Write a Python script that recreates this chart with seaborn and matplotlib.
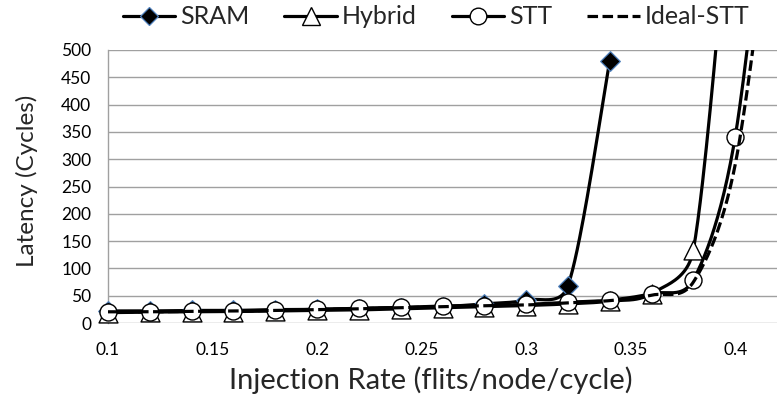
import numpy as np
import pandas as pd
import matplotlib
matplotlib.use("Agg")
import matplotlib.pyplot as plt
import seaborn as sns
from matplotlib.lines import Line2D

# ---------------- data ----------------
rate = [0.10, 0.12, 0.14, 0.16, 0.18, 0.20, 0.22, 0.24, 0.26, 0.28,
        0.30, 0.32, 0.34, 0.36, 0.38, 0.40, 0.42]
sram = [22, 22, 23, 23, 24.5, 25, 26.5, 28, 30, 35, 42, 68, 480]
hybrid = [19, 20, 20.5, 21, 22, 23, 24, 26, 28, 30, 32, 35, 40, 54, 134, 900]
stt = [21, 21, 22, 22, 23.5, 25, 27, 28.5, 31, 32, 34, 38, 42, 54, 79, 341, 1000]
ideal = [20.5, 20.5, 21.5, 22, 23, 24.5, 26, 28, 30, 31.5, 33, 37, 41, 51, 75, 290, 850]

x_ticks = [0.1, 0.15, 0.2, 0.25, 0.3, 0.35, 0.4]
x_tick_labels = ["0.1", "0.15", "0.2", "0.25", "0.3", "0.35", "0.4"]
y_ticks = [0, 50, 100, 150, 200, 250, 300, 350, 400, 450, 500]

XLIM = (0.1, 0.42)
YLIM = (0, 500)
AX_W_PX, AX_H_PX = 669.0, 273.0


def smooth(xv, yv, n=40):
    """Excel-style smoothed line: Bezier through the points, control arms
    limited to half the segment length (computed in screen space)."""
    sx = AX_W_PX / (XLIM[1] - XLIM[0])
    sy = AX_H_PX / (YLIM[1] - YLIM[0])
    P = np.column_stack([np.asarray(xv, float) * sx, np.asarray(yv, float) * sy])
    ext = np.vstack([P[0], P, P[-1]])
    out = []
    t = np.linspace(0, 1, n)[:, None]
    f = 1.0 / 6.0
    for i in range(len(P) - 1):
        p0, p1, p2, p3 = ext[i], ext[i + 1], ext[i + 2], ext[i + 3]
        d02 = np.hypot(*(p2 - p0))
        d12 = np.hypot(*(p2 - p1))
        d13 = np.hypot(*(p3 - p1))
        f0 = f if d02 * f < d12 / 2 else (d12 / d02 / 2 if d02 > 0 else 0)
        f1 = f if d13 * f < d12 / 2 else (d12 / d13 / 2 if d13 > 0 else 0)
        c1 = p1 + (p2 - p0) * f0
        c2 = p2 - (p3 - p1) * f1
        seg = (1 - t) ** 3 * p1 + 3 * (1 - t) ** 2 * t * c1 + 3 * (1 - t) * t ** 2 * c2 + t ** 3 * p2
        out.append(seg if i == 0 else seg[1:])
    s = np.vstack(out)
    return pd.DataFrame({"x": s[:, 0] / sx, "y": s[:, 1] / sy})


sns.set_style("white")
plt.rcParams["font.family"] = ["Lato", "DejaVu Sans"]

fig = plt.figure(figsize=(7.77, 4.05), dpi=100)
ax = fig.add_axes([108 / 777, 1 - 323 / 405, AX_W_PX / 777, AX_H_PX / 405])

LW = 2.3
BLUE = "#4F81BD"

series = [
    ("SRAM", sram, dict(marker="D", s=100, facecolor="black", edgecolor=BLUE, lw=0.9), "-"),
    ("Hybrid", hybrid, dict(marker="^", s=185, facecolor="white", edgecolor="black", lw=1.0), "-"),
    ("STT", stt, dict(marker="o", s=150, facecolor="white", edgecolor="black", lw=1.0), "-"),
    ("Ideal-STT", ideal, None, "--"),
]

z = 3
for name, vals, mk, ls in series:
    xs = rate[:len(vals)]
    df = smooth(xs, vals)
    sns.lineplot(data=df, x="x", y="y", sort=False, estimator=None, ax=ax,
                 color="black", lw=LW, zorder=z)
    line = ax.get_lines()[-1]
    if ls == "--":
        line.set_linestyle((0, (3.3, 1.4)))
    z += 1
    if mk is not None:
        pts = pd.DataFrame({"x": xs, "y": vals})
        pts = pts[pts["y"] <= YLIM[1]]
        ax.scatter(pts["x"], pts["y"], marker=mk["marker"], s=mk["s"],
                   facecolor=mk["facecolor"], edgecolor=mk["edgecolor"],
                   linewidths=mk["lw"], zorder=z, clip_on=False)
        z += 1

ax.set_xlim(*XLIM)
ax.set_ylim(*YLIM)
ax.set_xticks(x_ticks)
ax.set_xticklabels(x_tick_labels)
ax.set_yticks(y_ticks)
ax.grid(axis="y", color="#A0A0A0", lw=1.0)
ax.grid(axis="x", visible=False)
ax.set_axisbelow(True)
for sp in ["top", "right", "bottom"]:
    ax.spines[sp].set_visible(False)
ax.spines["left"].set_color("#A0A0A0")
ax.spines["left"].set_linewidth(1.0)
ax.tick_params(axis="y", length=0, pad=12, labelsize=12.5, colors="black")
ax.tick_params(axis="x", length=0, pad=14, labelsize=12.5, colors="black")

ax.set_xlabel("Injection Rate (flits/node/cycle)", fontsize=21)
ax.set_ylabel("Latency (Cycles)", fontsize=17.5)
ax.xaxis.set_label_coords(0.483, -0.16)
ax.yaxis.set_label_coords(-0.105, 0.52)

handles = [
    Line2D([], [], color="black", lw=LW, marker="D", ms=9, mfc="black", mec=BLUE, mew=0.9),
    Line2D([], [], color="black", lw=LW, marker="^", ms=12.5, mfc="white", mec="black", mew=1.0),
    Line2D([], [], color="black", lw=LW, marker="o", ms=12, mfc="white", mec="black", mew=1.0),
    Line2D([], [], color="black", lw=LW, ls=(0, (3.3, 1.4))),
]
labels = ["SRAM", "Hybrid", "STT", "Ideal-STT"]
fig.legend(handles, labels, loc="center", bbox_to_anchor=(436 / 777, 1 - 17 / 405),
           ncol=4, frameon=False, fontsize=18, handlelength=2.1, handletextpad=0.2,
           columnspacing=1.4, borderaxespad=0, borderpad=0)

fig.savefig("out.png", dpi=100)
